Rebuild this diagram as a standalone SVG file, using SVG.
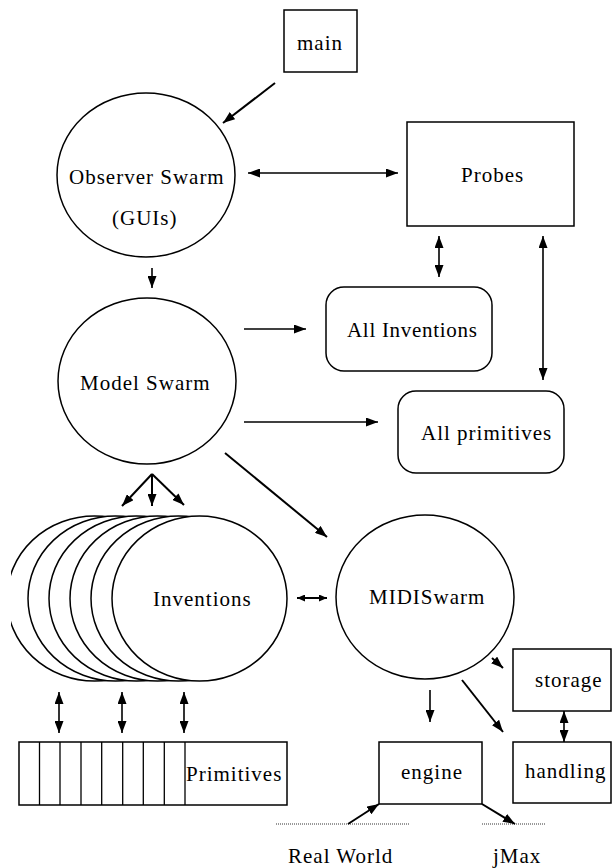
<svg xmlns="http://www.w3.org/2000/svg" width="612" height="868" viewBox="0 0 612 868">
<defs>
<style>
.s{fill:#fff;stroke:#000;stroke-width:1.5}
.t{font-family:"Liberation Serif","Times New Roman",serif;font-size:21px;letter-spacing:1px;fill:#000}
.c{fill:none;stroke:#000;stroke-width:1.6}
.d{fill:none;stroke:#000;stroke-width:2}
.dot{fill:none;stroke:#333;stroke-width:1;stroke-dasharray:1 1}
</style>
<marker id="a" viewBox="0 0 12 9" refX="12" refY="4.5" markerWidth="12" markerHeight="9" markerUnits="userSpaceOnUse" orient="auto-start-reverse"><path d="M0,0L12,4.5L0,9z" fill="#000"/></marker>
<marker id="b" viewBox="0 0 8 7" refX="8" refY="3.5" markerWidth="8" markerHeight="7" markerUnits="userSpaceOnUse" orient="auto-start-reverse"><path d="M0,0L8,3.5L0,7z" fill="#000"/></marker>
<clipPath id="clipL"><rect x="11" y="500" width="300" height="200"/></clipPath>
</defs>

<g id="main"><rect class="s" x="284" y="10" width="73" height="62"/><text class="t" x="297" y="50">main</text></g>
<g id="observer"><ellipse class="s" cx="146" cy="175" rx="89" ry="82"/><text class="t" x="69" y="184">Observer Swarm</text><text class="t" x="112" y="225">(GUIs)</text></g>
<g id="probes"><rect class="s" x="407" y="122" width="167" height="104"/><text class="t" x="461" y="182">Probes</text></g>
<g id="allinventions"><rect class="s" x="326" y="287" width="166" height="84" rx="18"/><text class="t" x="347" y="337" style="letter-spacing:0.7px">All Inventions</text></g>
<g id="model"><ellipse class="s" cx="147" cy="381" rx="89" ry="83"/><text class="t" x="80" y="390">Model Swarm</text></g>
<g id="allprimitives"><rect class="s" x="398" y="391" width="166" height="82" rx="18"/><text class="t" x="421" y="440">All primitives</text></g>
<g id="inventions" clip-path="url(#clipL)">
<ellipse class="s" cx="94.5" cy="598.5" rx="87.5" ry="82.5"/>
<ellipse class="s" cx="115.5" cy="598.5" rx="87.5" ry="82.5"/>
<ellipse class="s" cx="136.5" cy="598.5" rx="87.5" ry="82.5"/>
<ellipse class="s" cx="157.5" cy="598.5" rx="87.5" ry="82.5"/>
<ellipse class="s" cx="178.5" cy="598.5" rx="87.5" ry="82.5"/>
<ellipse class="s" cx="199.5" cy="598.5" rx="87.5" ry="82.5"/>
<text class="t" x="153" y="606">Inventions</text>
</g>
<g id="midiswarm"><ellipse class="s" cx="425" cy="597" rx="89" ry="82"/><text class="t" x="369" y="604">MIDISwarm</text></g>
<g id="primitives"><rect class="s" x="19" y="742" width="268" height="63"/>
<path class="c" style="stroke-width:1.3" d="M39.5,742V805M60,742V805M81,742V805M101.7,742V805M122.7,742V805M143.3,742V805M164.3,742V805M185,742V805"/>
<text class="t" x="186" y="781">Primitives</text></g>
<g id="storage"><rect class="s" x="513" y="649" width="98" height="62"/><text class="t" x="535" y="687">storage</text></g>
<g id="handling"><rect class="s" x="513" y="742" width="98" height="61"/><text class="t" x="525" y="778">handling</text></g>
<g id="engine"><rect class="s" x="379" y="742" width="103" height="62"/><text class="t" x="401" y="779">engine</text></g>
<g id="realworld"><line class="dot" x1="276" y1="824" x2="410" y2="824"/><text class="t" x="288" y="863">Real World</text></g>
<g id="jmax"><line class="dot" x1="482" y1="824" x2="545" y2="824"/><text class="t" x="493" y="863">jMax</text></g>

<g id="connectors">
<line class="d" x1="275" y1="83" x2="223" y2="123" marker-end="url(#a)"/>
<line class="c" x1="248" y1="173" x2="398" y2="173" marker-start="url(#a)" marker-end="url(#a)"/>
<line class="c" x1="152" y1="268" x2="152" y2="288" marker-end="url(#a)"/>
<line class="c" x1="439" y1="236" x2="439" y2="277" marker-start="url(#a)" marker-end="url(#a)"/>
<line class="c" x1="543" y1="236" x2="543" y2="380" marker-start="url(#a)" marker-end="url(#a)"/>
<line class="c" x1="244" y1="329" x2="306" y2="329" marker-end="url(#a)"/>
<line class="c" x1="244" y1="422" x2="378" y2="422" marker-end="url(#a)"/>
<line class="d" x1="225" y1="453" x2="327" y2="537" marker-end="url(#a)"/>
<line class="d" x1="152" y1="474" x2="122" y2="506" marker-end="url(#a)"/>
<line class="d" x1="152" y1="474" x2="152" y2="506" marker-end="url(#a)"/>
<line class="d" x1="152" y1="474" x2="184" y2="505" marker-end="url(#a)"/>
<line class="d" x1="297" y1="598" x2="327" y2="598" marker-start="url(#b)" marker-end="url(#b)"/>
<line class="c" x1="59" y1="692" x2="59" y2="733" marker-start="url(#a)" marker-end="url(#a)"/>
<line class="c" x1="122" y1="692" x2="122" y2="733" marker-start="url(#a)" marker-end="url(#a)"/>
<line class="c" x1="184" y1="692" x2="184" y2="733" marker-start="url(#a)" marker-end="url(#a)"/>
<line class="d" x1="492" y1="658" x2="503" y2="668" marker-end="url(#a)"/>
<line class="c" x1="430" y1="690" x2="430" y2="722" marker-end="url(#a)"/>
<line class="d" x1="462" y1="680" x2="503" y2="732" marker-end="url(#a)"/>
<line class="c" x1="564" y1="711" x2="564" y2="742" marker-start="url(#a)" marker-end="url(#a)"/>
<line class="d" x1="348" y1="824" x2="379" y2="804" marker-end="url(#a)"/>
<line class="d" x1="482" y1="804" x2="515" y2="824" marker-end="url(#a)"/>
</g>
</svg>
